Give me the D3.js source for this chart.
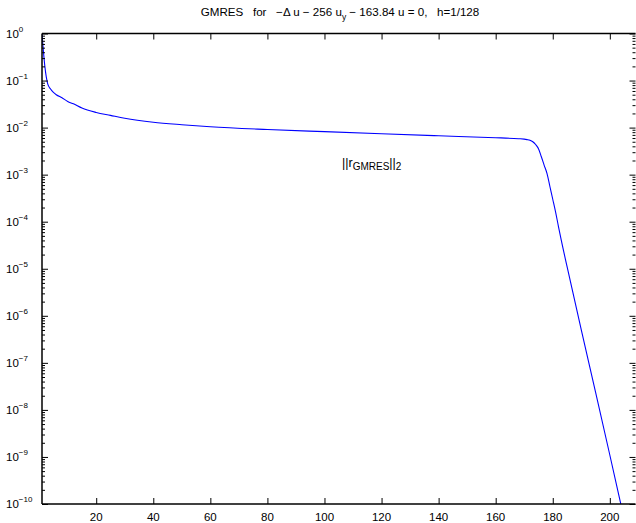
<!DOCTYPE html>
<html>
<head>
<meta charset="utf-8">
<script src="https://cdn.jsdelivr.net/npm/d3@7"></script>
<style>
  html, body { margin: 0; padding: 0; background: #fff; }
  svg { display: block; font-family: "Liberation Sans", Arial, Helvetica, sans-serif; }
</style>
</head>
<body>
<svg id="chart" width="636" height="523"></svg>
<script>
// GMRES residual history (2-norm of the residual) against iteration count
const iterations = [1, 2, 3, 4, 5, 6, 8, 10, 12, 15, 20, 25, 30, 40, 50, 60, 80, 100, 120, 140, 160,
  168, 170, 171, 172, 173, 174, 175, 176, 177, 178, 179, 180, 181, 182, 183, 185, 190, 195, 200, 204, 209];
const residuals = [1, 2.0e-1, 8.5e-2, 6.6e-2, 5.6e-2, 5.0e-2, 4.3e-2, 3.6e-2, 3.2e-2, 2.6e-2, 2.1e-2,
  1.82e-2, 1.58e-2, 1.3e-2, 1.15e-2, 1.04e-2, 9.1e-3, 8.2e-3, 7.4e-3, 6.7e-3, 6.1e-3,
  5.8e-3, 5.7e-3, 5.56e-3, 5.37e-3, 5.0e-3, 4.37e-3, 3.55e-3, 2.4e-3, 1.58e-3, 1.05e-3, 5.6e-4, 3.0e-4,
  1.6e-4, 7.9e-5, 4.0e-5, 1.12e-5, 5.0e-7, 2.4e-8, 1.1e-9, 9.1e-11, 4.0e-12];

const xTicks = [20, 40, 60, 80, 100, 120, 140, 160, 180, 200];
const yExponents = [0, -1, -2, -3, -4, -5, -6, -7, -8, -9, -10];

const svg = d3.select("#chart");
const plotLeft = 42, plotRight = 635.5, plotTop = 33.5, plotBottom = 504;

const x = d3.scaleLinear().domain([1, 209]).range([plotLeft, plotRight]);
const y = d3.scaleLog().domain([1e-10, 1]).range([plotBottom, plotTop]);

const majorY = yExponents.map(e => Math.pow(10, e));
const minorY = [];
yExponents.slice(1).forEach(e => {
  for (let m = 2; m <= 9; m++) minorY.push(m * Math.pow(10, e));
});

// clipped residual curve
svg.append("clipPath").attr("id", "plotClip")
  .append("rect").attr("x", plotLeft).attr("y", plotTop)
  .attr("width", plotRight - plotLeft).attr("height", plotBottom - plotTop);

const line = d3.line()
  .x((d, i) => x(iterations[i]))
  .y(d => y(d))
  .curve(d3.curveMonotoneX);
svg.append("path")
  .datum(residuals)
  .attr("clip-path", "url(#plotClip)")
  .attr("fill", "none")
  .attr("stroke", "#0000ff")
  .attr("stroke-width", 1.1)
  .attr("d", line);

// inward ticks on all four sides
function styleAxis(g) {
  g.select(".domain").remove();
  g.selectAll(".tick line").attr("stroke", "#000").attr("stroke-width", 1);
  g.selectAll(".tick text").remove();
}
svg.append("g").attr("transform", `translate(0,${plotBottom})`)
  .call(d3.axisBottom(x).tickValues(xTicks).tickSize(-6)).call(styleAxis);
svg.append("g").attr("transform", `translate(0,${plotTop})`)
  .call(d3.axisTop(x).tickValues(xTicks).tickSize(-6)).call(styleAxis);
svg.append("g").attr("transform", `translate(${plotLeft},0)`)
  .call(d3.axisLeft(y).tickValues(majorY).tickSize(-6)).call(styleAxis);
svg.append("g").attr("transform", `translate(${plotLeft},0)`)
  .call(d3.axisLeft(y).tickValues(minorY).tickSize(-3)).call(styleAxis);
svg.append("g").attr("transform", `translate(${plotRight},0)`)
  .call(d3.axisRight(y).tickValues(majorY).tickSize(-6)).call(styleAxis);
svg.append("g").attr("transform", `translate(${plotRight},0)`)
  .call(d3.axisRight(y).tickValues(minorY).tickSize(-3)).call(styleAxis);

// box lines
svg.append("line").attr("x1", plotLeft).attr("x2", plotRight).attr("y1", plotBottom).attr("y2", plotBottom)
  .attr("stroke", "#000").attr("stroke-width", 1.5);
svg.append("line").attr("x1", plotLeft).attr("x2", plotRight).attr("y1", plotTop).attr("y2", plotTop)
  .attr("stroke", "#000").attr("stroke-width", 1.5);
svg.append("line").attr("x1", plotLeft).attr("x2", plotLeft).attr("y1", plotTop).attr("y2", plotBottom)
  .attr("stroke", "#000").attr("stroke-width", 1.5);

// x tick labels
svg.append("g").selectAll("text").data(xTicks).join("text")
  .attr("x", d => x(d)).attr("y", plotBottom + 17)
  .attr("text-anchor", "middle").attr("font-size", 11.5).attr("fill", "#000")
  .text(d => d);

// y tick labels: 10 with superscript exponent
const yl = svg.append("g").selectAll("text").data(yExponents).join("text")
  .attr("x", 6).attr("y", d => y(Math.pow(10, d)) + 4)
  .attr("font-size", 11.5).attr("fill", "#000");
yl.append("tspan").text("10");
yl.append("tspan").attr("font-size", 8).attr("dy", -6)
  .text(d => d === 0 ? "0" : "\u2212" + (-d));

// title
const title = svg.append("text").attr("x", 340).attr("y", 16)
  .attr("text-anchor", "middle").attr("font-size", 11.6).attr("fill", "#000")
  .attr("xml:space", "preserve").style("white-space", "pre");
title.append("tspan").text("GMRES   for   \u2212\u0394 u \u2212 256 u");
title.append("tspan").attr("font-size", 8.5).attr("dy", 4).text("y");
title.append("tspan").attr("dy", -4).text(" \u2212 163.84 u = 0,   h=1/128");

// annotation naming the curve
const lab = svg.append("text").attr("x", 342).attr("y", 167)
  .attr("font-size", 12.5).attr("fill", "#000");
lab.append("tspan").text("||r");
lab.append("tspan").attr("font-size", 10).attr("dy", 3).text("GMRES");
lab.append("tspan").attr("dy", -3).text("||");
lab.append("tspan").attr("font-size", 10).attr("dy", 3).text("2");
</script>
</body>
</html>
